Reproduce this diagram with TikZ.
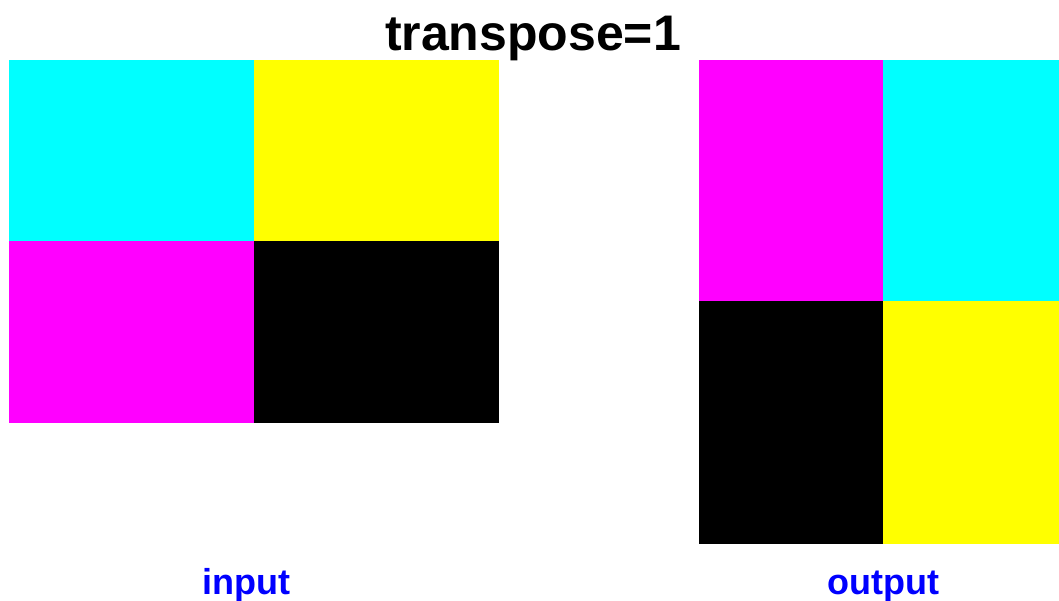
\documentclass[tikz,border=0pt]{standalone}
\usepackage{fontspec}
\setmainfont{Liberation Sans}
\usetikzlibrary{positioning}
\definecolor{cellcyan}{RGB}{0,255,255}
\definecolor{cellyellow}{RGB}{255,255,0}
\definecolor{cellmagenta}{RGB}{255,0,255}
\definecolor{lblblue}{RGB}{0,0,255}

\begin{document}
\begin{tikzpicture}[x=1pt, y=-1pt,
						cell/.style={draw=none, rectangle, inner sep=0pt, outer sep=0pt, anchor=north west},
						title/.style={font=\fontsize{50}{60}\selectfont\bfseries, anchor=base, inner sep=0pt},
						caption/.style={font=\fontsize{36}{43}\selectfont\bfseries, text=lblblue, anchor=base, inner sep=0pt}]
		\useasboundingbox (0,0) rectangle (1059,600);

		% input grid
		\node (in_tl) [cell, fill=cellcyan, minimum width=245pt, minimum height=181pt] at (9,60) {};
		\node (in_tr) [cell, fill=cellyellow, minimum width=245pt, minimum height=181pt] at (254,60) {};
		\node (in_bl) [cell, fill=cellmagenta, minimum width=245pt, minimum height=182pt] at (9,241) {};
		\node (in_br) [cell, fill=black, minimum width=245pt, minimum height=182pt] at (254,241) {};

		% output grid
		\node (out_tl) [cell, fill=cellmagenta, minimum width=184pt, minimum height=241pt] at (699,60) {};
		\node (out_tr) [cell, fill=cellcyan, minimum width=176pt, minimum height=241pt] at (883,60) {};
		\node (out_bl) [cell, fill=black, minimum width=184pt, minimum height=243pt] at (699,301) {};
		\node (out_br) [cell, fill=cellyellow, minimum width=176pt, minimum height=243pt] at (883,301) {};

		\node (head) [title] at (533,50) {transpose=1};
		\node (in_lbl) [caption] at (246,594) {input};
		\node (out_lbl) [caption] at (883,594) {output};
	\end{tikzpicture}
\end{document}
